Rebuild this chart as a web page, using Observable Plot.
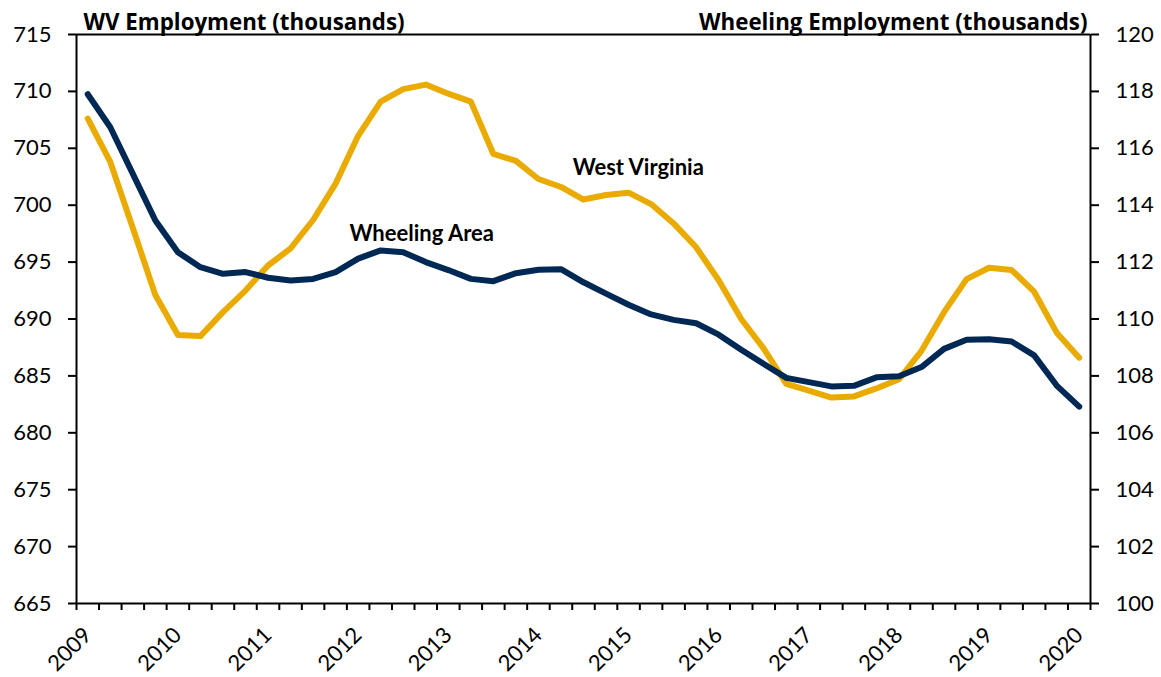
<!DOCTYPE html>
<html>
<head>
<meta charset="utf-8">
<script src="https://cdn.jsdelivr.net/npm/d3@7"></script>
<script src="https://cdn.jsdelivr.net/npm/@observablehq/plot@0.6"></script>
<style>
  html, body { margin: 0; padding: 0; background: #fff; }
  #chart svg { display: block; font-family: Lato, "Open Sans", sans-serif; }
</style>
</head>
<body>
<div id="chart"></div>
<script>
// Quarterly observations, 2009 Q1 – 2020 Q1
const years = d3.range(2009, 2021);
const westVirginia = [
  707.6, 703.8, 698.0, 692.1, 688.6, 688.5, 690.6, 692.5, 694.7, 696.2,
  698.7, 701.9, 706.1, 709.1, 710.2, 710.6, 709.8, 709.1, 704.5, 703.9,
  702.3, 701.6, 700.5, 700.9, 701.1, 700.1, 698.4, 696.3, 693.4, 690.0,
  687.4, 684.3, 683.7, 683.1, 683.2, 683.9, 684.7, 687.2, 690.6, 693.5,
  694.5, 694.3, 692.4, 688.8, 686.6
];
const wheelingArea = [
  117.90, 116.74, 115.10, 113.46, 112.35, 111.82, 111.59, 111.65, 111.45, 111.35,
  111.41, 111.65, 112.12, 112.41, 112.35, 112.00, 111.72, 111.41, 111.33, 111.61,
  111.73, 111.75, 111.29, 110.89, 110.50, 110.16, 109.97, 109.85, 109.45, 108.92,
  108.42, 107.93, 107.78, 107.63, 107.65, 107.95, 107.99, 108.31, 108.95, 109.27,
  109.29, 109.21, 108.72, 107.66, 106.92
];
const leftTicks = d3.range(665, 716, 5);
const rightTicks = d3.range(100, 121, 2);
const labels = [
  {text: "West Virginia", i: 24.43, v: 703.24},
  {text: "Wheeling Area", i: 14.82, v: 697.43}
];

// map right-axis (Wheeling) values onto left scale
const wToLeft = w => 665 + (w - 100) * 2.5;
const leftToW = v => 100 + (v - 665) / 2.5;

const n = westVirginia.length;
const wvData = westVirginia.map((v, i) => ({i, v}));
const whData = wheelingArea.map((w, i) => ({i, v: wToLeft(w)}));
const boundaries = d3.range(0, n + 1).map(k => k - 0.5);
const yearIdx = years.map((y, k) => k * 4);

const gold = "#EAAB00";
const navy = "#002855";
const titleFont = "'Open Sans', Lato, sans-serif";

const chart = Plot.plot({
  width: 1161,
  height: 677,
  marginLeft: 76,
  marginRight: 71,
  marginTop: 34,
  marginBottom: 74,
  style: {fontFamily: "Lato, 'Open Sans', sans-serif", fontSize: "22px", color: "#000", background: "#fff"},
  x: {domain: [-0.5, n - 0.5], axis: null},
  y: {domain: [665, 715], axis: null},
  marks: [
    // frame lines
    Plot.ruleY([665, 715], {stroke: "#000", strokeWidth: 2}),
    Plot.ruleX([-0.5, n - 0.5], {stroke: "#000", strokeWidth: 2}),
    // left axis
    Plot.axisY(leftTicks, {anchor: "left", tickSize: 8, tickPadding: 17, strokeWidth: 2, fontSize: 22, label: null}),
    // right axis
    Plot.axisY(rightTicks.map(wToLeft), {anchor: "right", tickSize: 8, tickPadding: 17, strokeWidth: 2, fontSize: 22, label: null, tickFormat: v => String(Math.round(leftToW(v)))}),
    // bottom tick marks at quarter boundaries
    Plot.axisX(boundaries, {anchor: "bottom", tickSize: 7, strokeWidth: 2, tickFormat: () => "", label: null}),
    // year labels
    Plot.axisX(yearIdx, {anchor: "bottom", tickSize: 0, tickPadding: 28, tickRotate: -45, fontSize: 22, label: null, tickFormat: i => String(years[i / 4])}),
    // series
    Plot.line(wvData, {x: "i", y: "v", stroke: gold, strokeWidth: 6, strokeLinecap: "round", strokeLinejoin: "round"}),
    Plot.line(whData, {x: "i", y: "v", stroke: navy, strokeWidth: 6, strokeLinecap: "round", strokeLinejoin: "round"}),
    // series labels
    Plot.text(labels, {x: "i", y: "v", text: "text", fontSize: 22, fontWeight: "bold", fill: "#000", textAnchor: "middle", lineAnchor: "middle"}),
    // axis titles
    Plot.text(["WV Employment (thousands)"], {frameAnchor: "top-left", dx: 7, dy: -5, lineAnchor: "bottom", textAnchor: "start", fontSize: 22.3, fontWeight: "bold", fontFamily: titleFont, fill: "#000"}),
    Plot.text(["Wheeling Employment (thousands)"], {frameAnchor: "top-right", dx: -3, dy: -5, lineAnchor: "bottom", textAnchor: "end", fontSize: 22.3, fontWeight: "bold", fontFamily: titleFont, fill: "#000"})
  ]
});
document.getElementById("chart").appendChild(chart);
</script>
</body>
</html>
